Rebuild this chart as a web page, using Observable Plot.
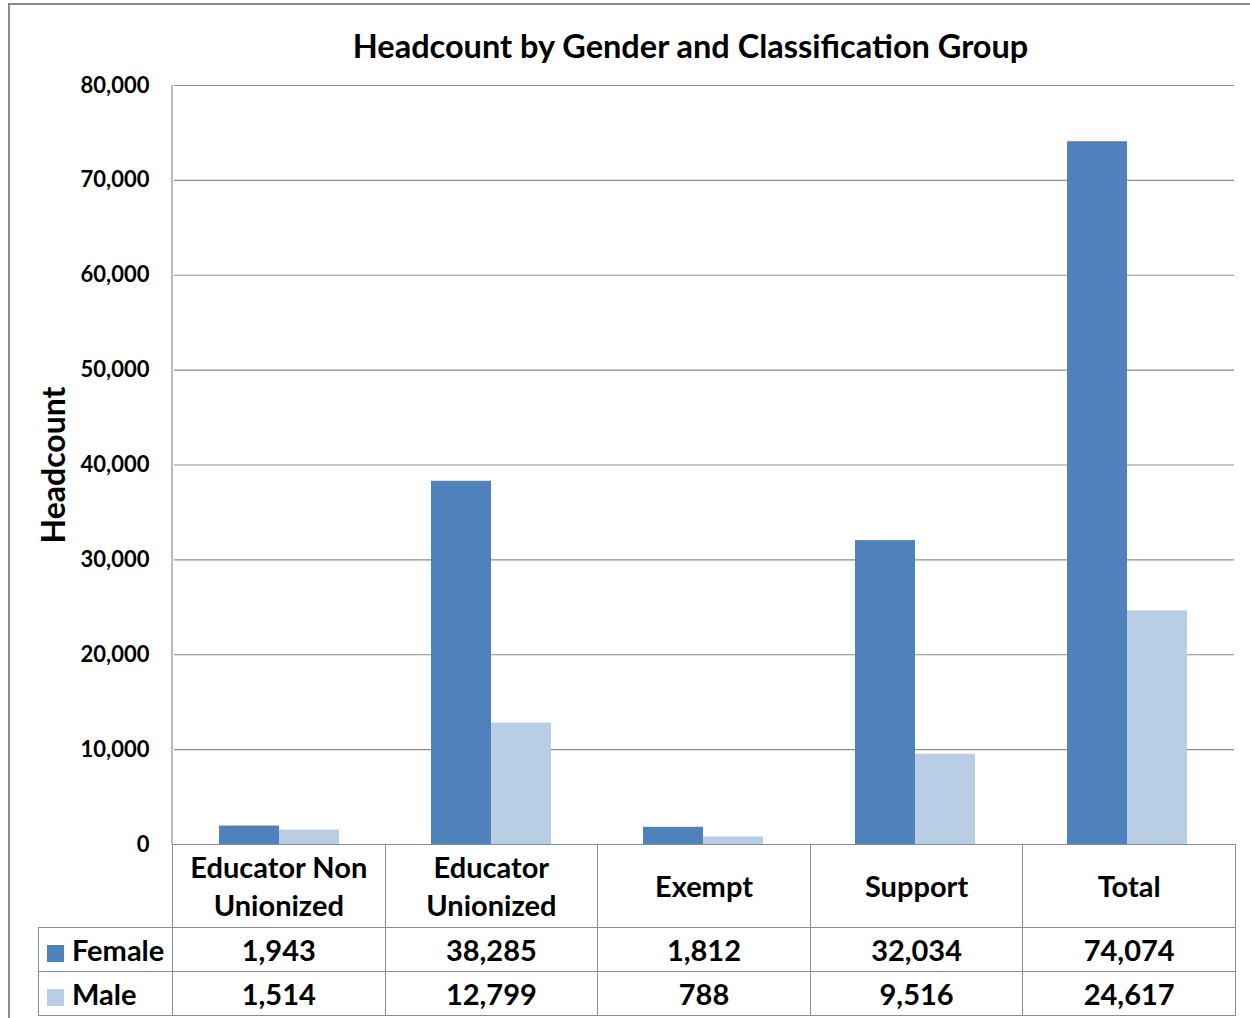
<!DOCTYPE html>
<html>
<head>
<meta charset="utf-8">
<script src="https://cdn.jsdelivr.net/npm/d3@7"></script>
<script src="https://cdn.jsdelivr.net/npm/@observablehq/plot@0.6"></script>
<style>
  html, body { margin: 0; padding: 0; background: #fff; }
  #wrap { position: relative; width: 1250px; height: 1018px; overflow: hidden; font-family: Lato, "Open Sans", sans-serif; color: #000; }
  #frame { position: absolute; left: 8px; top: 3px; width: 1400px; height: 1200px; border: 2px solid #8c8c8c; box-sizing: border-box; }
  #title { position: absolute; left: 0; width: 1381px; top: 25px; text-align: center; font-weight: bold; font-size: 32.5px; line-height: 42px; }
  #ylabel { position: absolute; left: 52px; top: 465px; transform: translate(-50%, -50%) rotate(-90deg); font-weight: bold; font-size: 32px; white-space: nowrap; }
  #chart { position: absolute; left: 0; top: 0; }
  table { position: absolute; left: 38px; top: 844px; border-collapse: collapse; table-layout: fixed; font-weight: bold; font-size: 29px; }
  td { border: 1px solid #8c8c8c; text-align: center; padding: 0; overflow: hidden; }
  tr.head td { height: 82px; line-height: 38px; vertical-align: middle; }
  tr.head td.blank { border-top: none; border-left: none; }
  tr.row td { height: 43px; line-height: 43px; }
  td.lab { text-align: left; padding-left: 8px; white-space: nowrap; }
  .sw { display: inline-block; width: 17px; height: 17px; margin-right: 8px; vertical-align: -1px; }
</style>
</head>
<body>
<div id="wrap">
  <div id="frame"></div>
  <div id="chart"></div>
  <div id="title"></div>
  <div id="ylabel"></div>
</div>
<script>
const title = "Headcount by Gender and Classification Group";
const yLabel = "Headcount";
const categories = ["Educator Non Unionized", "Educator Unionized", "Exempt", "Support", "Total"];
const series = ["Female", "Male"];
const female = [1943, 38285, 1812, 32034, 74074];
const male = [1514, 12799, 788, 9516, 24617];
const colors = ["#4F81BD", "#B9CDE5"];
const yTicks = [0, 10000, 20000, 30000, 40000, 50000, 60000, 70000, 80000];

const data = [];
categories.forEach((c, i) => {
  data.push({category: c, gender: "Female", value: female[i]});
  data.push({category: c, gender: "Male", value: male[i]});
});

document.getElementById("title").textContent = title;
document.getElementById("ylabel").textContent = yLabel;

const chart = Plot.plot({
  width: 1250,
  height: 1018,
  marginLeft: 172,
  marginRight: 15,
  marginTop: 85,
  marginBottom: 174,
  style: {fontFamily: "Lato, 'Open Sans', sans-serif", fontSize: "22px", fontWeight: "bold", color: "#000", background: "transparent", overflow: "visible"},
  fx: {domain: categories, padding: 0, axis: null, label: null},
  x: {domain: series, paddingInner: 0, paddingOuter: 0.74, axis: null, label: null},
  y: {domain: [0, 80000], ticks: yTicks, tickFormat: d3.format(","), tickSize: 0, tickPadding: 25, grid: false, label: null, line: false},
  color: {domain: series, range: colors},
  marks: [
    Plot.ruleY(yTicks, {stroke: "#8c8c8c", strokeWidth: 1.2, strokeOpacity: 1}),
    Plot.barY(data, {fx: "category", x: "gender", y: "value", fill: "gender", dx: -1})
  ]
});
document.getElementById("chart").appendChild(chart);

// left axis line along the plot's left edge, using the y scale's range
const ys = chart.scale("y");
const svg = d3.select(chart.tagName.toLowerCase() === "svg" ? chart : chart.querySelector("svg"));
svg.append("line")
  .attr("x1", 172).attr("x2", 172)
  .attr("y1", ys.apply(80000)).attr("y2", ys.apply(0))
  .attr("stroke", "#8c8c8c").attr("stroke-width", 1.2);

// data table
const table = document.createElement("table");
const colgroup = document.createElement("colgroup");
const c0 = document.createElement("col"); c0.style.width = "134px"; colgroup.appendChild(c0);
categories.forEach(() => { const c = document.createElement("col"); c.style.width = "212.6px"; colgroup.appendChild(c); });
table.appendChild(colgroup);
table.style.width = (134 + 212.6 * categories.length) + "px";

const head = document.createElement("tr"); head.className = "head";
const blank = document.createElement("td"); blank.className = "blank"; head.appendChild(blank);
categories.forEach(c => { const td = document.createElement("td"); td.textContent = c; head.appendChild(td); });
table.appendChild(head);

const fmt = d3.format(",");
[[series[0], female, colors[0]], [series[1], male, colors[1]]].forEach(([name, vals, col]) => {
  const tr = document.createElement("tr"); tr.className = "row";
  const lab = document.createElement("td"); lab.className = "lab";
  const sw = document.createElement("span"); sw.className = "sw"; sw.style.background = col;
  lab.appendChild(sw); lab.appendChild(document.createTextNode(name));
  tr.appendChild(lab);
  vals.forEach(v => { const td = document.createElement("td"); td.textContent = fmt(v); tr.appendChild(td); });
  table.appendChild(tr);
});
document.getElementById("wrap").appendChild(table);
</script>
</body>
</html>
